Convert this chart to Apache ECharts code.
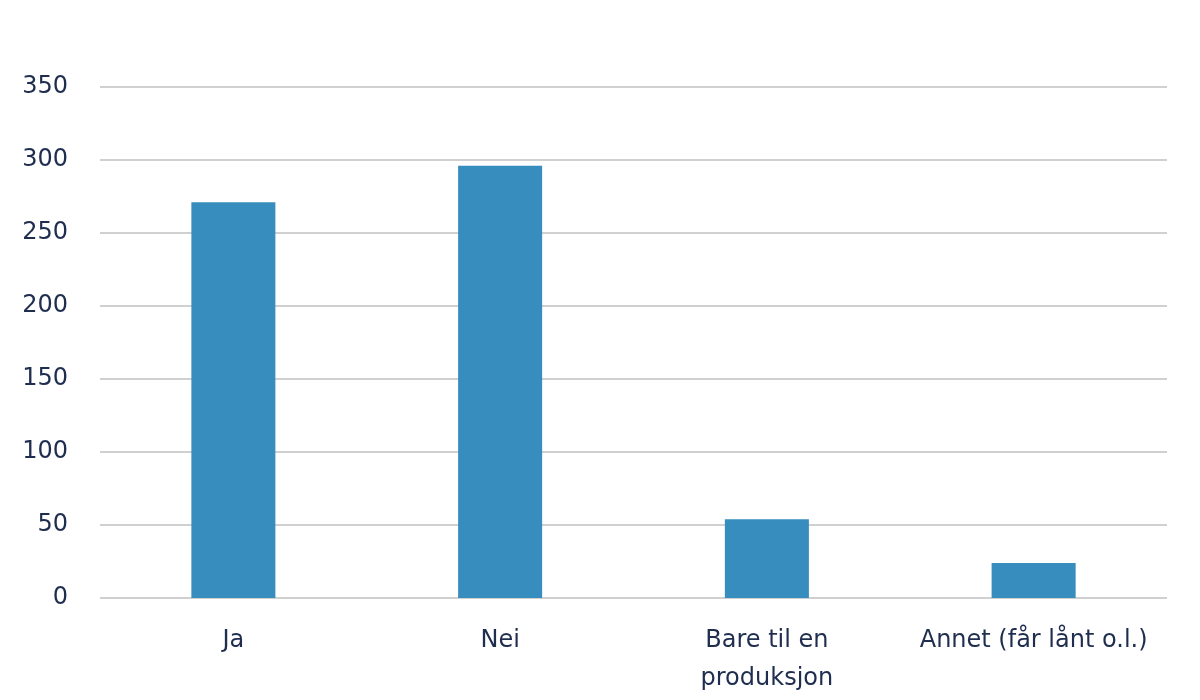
<!DOCTYPE html>
<html>
<head>
<meta charset="utf-8">
<script src="https://cdn.jsdelivr.net/npm/echarts@6/dist/echarts.min.js"></script>
<style>
html,body{margin:0;padding:0;background:#fff;}
#chart{width:1200px;height:700px;}
</style>
</head>
<body>
<div id="chart"></div>
<script>
const categories = ["Ja", "Nei", "Bare til en\nproduksjon", "Annet (får lånt o.l.)"];
const values = [271, 296, 54, 24];
const yTicks = { min: 0, max: 350, interval: 50 };

const textColor = '#1f2d4e';
const chart = echarts.init(document.getElementById('chart'));
chart.setOption({
  animation: false,
  grid: { left: 100, right: 33, top: 87, bottom: 102, containLabel: false },
  xAxis: {
    type: 'category',
    data: categories,
    axisLine: { show: false },
    axisTick: { show: false },
    axisLabel: {
      color: textColor, fontSize: 24, fontFamily: 'DejaVu Sans', margin: 24,
      lineHeight: 38, interval: 0
    }
  },
  yAxis: {
    type: 'value',
    min: yTicks.min, max: yTicks.max, interval: yTicks.interval,
    axisLine: { show: false },
    axisTick: { show: false },
    axisLabel: { color: textColor, fontSize: 24, fontFamily: 'DejaVu Sans', margin: 32 },
    splitLine: { lineStyle: { color: '#d0d0d0', width: 2 } }
  },
  series: [{
    type: 'bar',
    data: values,
    barWidth: '31.5%',
    itemStyle: { color: '#378dbd' }
  }]
});
</script>
</body>
</html>
